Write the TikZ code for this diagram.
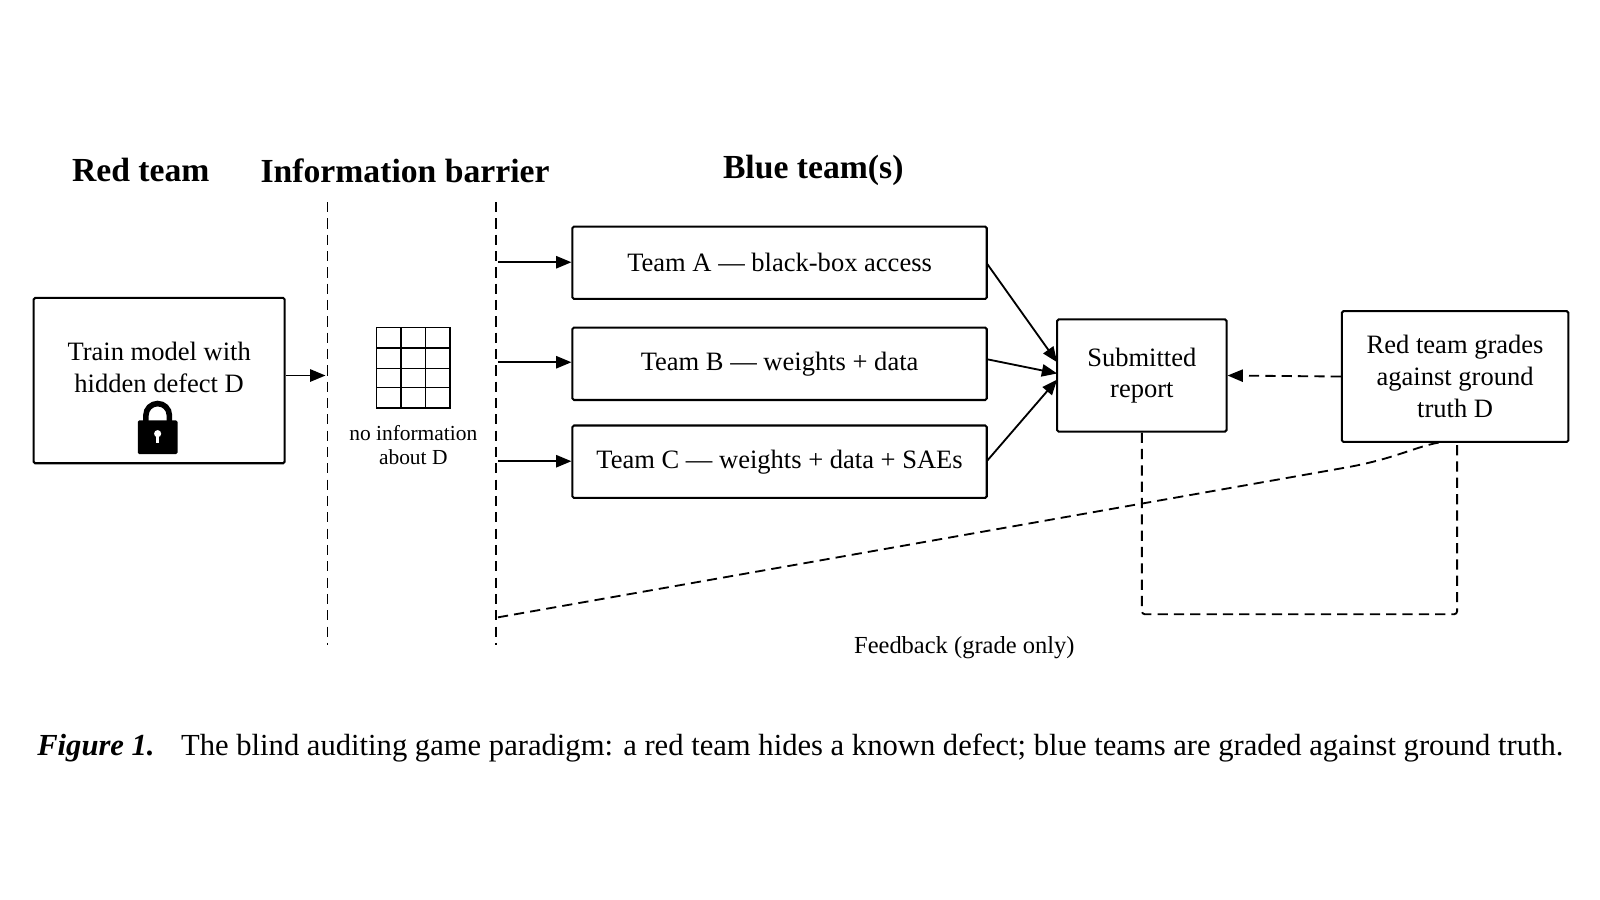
\documentclass[tikz,border=0pt]{standalone}
\usepackage{fontspec}
\setmainfont{Liberation Serif}
\usetikzlibrary{arrows.meta}
\begin{document}
\begin{tikzpicture}[x=1pt,y=-1pt,
  box/.style={draw,line width=2pt,rounded corners=1.5pt,inner sep=0,align=center,font=\fontsize{26}{31}\selectfont},
  arr/.style={-{Triangle[length=15pt,width=12pt]},line width=1.8pt},
  dsh/.style={line width=1.8pt,dash pattern=on 10pt off 6pt},
  title/.style={font=\fontsize{33}{38}\selectfont\bfseries}]
\useasboundingbox (0,0) rectangle (1568,882);
\node[title] (t1) at (138,167) {Red team};
\node[title] (t2) at (397,167) {Information barrier};
\node[title] (t3) at (797,167) {Blue team(s)};
\coordinate (l1t) at (321,198); \coordinate (l1b) at (321,632);
\coordinate (l2t) at (486,198); \coordinate (l2b) at (486,632);
\draw[dsh] (l1t)--(l1b); \draw[dsh] (l2t)--(l2b);
\node[box,minimum width=246pt,minimum height=162pt] (train) at (156,373) {};
\node[font=\fontsize{26}{31}\selectfont,align=center] (traintxt) at (156,360) {Train model with\\hidden defect D};
% lock
\draw[line width=5.5pt] (143,413) -- (143,407) arc[start angle=180,end angle=360,radius=11.5] -- (166,413);
\fill[rounded corners=1.5pt] (135,412) rectangle (174,445);
\fill[white] (154.5,425) circle (3.5);
\fill[white] (153,426) rectangle (156,434);
\coordinate (a0) at (319,368);
\draw[arr] (train.east |- a0) -- (a0);
% grid
\node[draw,line width=1.8pt,minimum width=72pt,minimum height=79pt,inner sep=0] (grid) at (405,360.5) {};
\draw[line width=1.3pt] (393,321)--(393,400) (417,321)--(417,400)
  (369,341)--(441,341) (369,361)--(441,361) (369,380)--(441,380);
\node[font=\fontsize{21}{24}\selectfont,align=center] (noinfo) at (405,436) {no information\\about D};
% teams
\node[box,minimum width=406pt,minimum height=71pt] (A) at (764,257.5) {Team A — black-box access};
\node[box,minimum width=406pt,minimum height=71pt] (B) at (764,356.5) {Team B — weights + data};
\node[box,minimum width=406pt,minimum height=71pt] (C) at (764,452.5) {Team C — weights + data + SAEs};
\coordinate (sA) at (488,257); \coordinate (sB) at (488,355); \coordinate (sC) at (488,452);
\draw[arr] (sA) -- (A.west |- sA);
\draw[arr] (sB) -- (B.west |- sB);
\draw[arr] (sC) -- (C.west |- sC);
\node[box,minimum width=166pt,minimum height=110pt] (rep) at (1119,368) {Submitted\\report};
\node[box,minimum width=222pt,minimum height=128pt] (grade) at (1426,369) {Red team grades\\against ground\\truth D};
\coordinate (eA) at (967,258); \coordinate (eB) at (967,352); \coordinate (eC) at (967,452);
\coordinate (rA) at (1036,355); \coordinate (rB) at (1036,366); \coordinate (rC) at (1036,372);
\draw[arr] (eA) -- (rA);
\draw[arr] (eB) -- (rB);
\draw[arr] (eC) -- (rC);
\draw[arr,dash pattern=on 10pt off 6pt] (grade.west) -- (rep.east);
\coordinate (c1) at (1119,602); \coordinate (c2) at (1428,602);
\draw[dsh,rounded corners=3pt] (rep.south) -- (c1) -- (c2) -- (grade.south -| c2);
\coordinate (fb) at (488,605);
\draw[dsh] (fb) -- (1320,458) .. controls (1370,449) and (1390,436) .. (1415,433);
\node[font=\fontsize{24}{28}\selectfont] (fbl) at (945,635) {Feedback (grade only)};
\node[anchor=west,font=\fontsize{30}{36}\selectfont] (cap) at (33,733) {\textbf{\textit{Figure 1.}}\hspace{26pt}The blind auditing game paradigm: a red team hides a known defect; blue teams are graded against ground truth.};
\end{tikzpicture}
\end{document}
